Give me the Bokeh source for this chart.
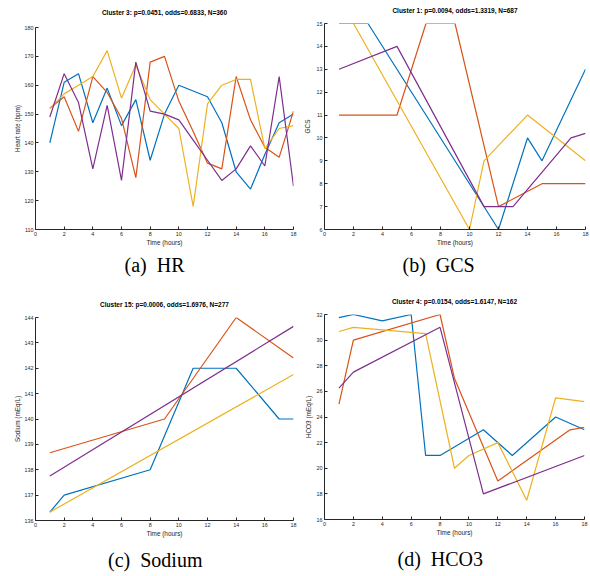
from bokeh.plotting import figure
from bokeh.models import Range1d, FixedTicker, Title
from bokeh.layouts import row, column
from bokeh.embed import file_html
from bokeh.resources import INLINE

# ---------------- data ----------------
hours = list(range(1, 19))
x_ticks = [0, 2, 4, 6, 8, 10, 12, 14, 16, 18]

# (a) HR - Cluster 3
hr_blue = [140, 161, 164, 147, 159, 146, 155, 134, 150, 160, 158, 156, 147, 130, 124, 136, 147, 150]
hr_orange = [152, 156, 144, 163, 157.5, 148.5, 128, 168, 170, 154.5, 144, 133, 131, 163, 148, 138.5, 135, 151]
hr_yellow = [152, 157, 160, 163, 172, 155.5, 167, 155, 150, 145, 118, 153.5, 160, 162, 162, 138, 145, 146]
hr_purple = [149, 164, 154, 131, 153, 127, 168, 151, 150, 148, 141, 134, 127, 131, 139, 132, 163, 125]
hr_yticks = [110, 120, 130, 140, 150, 160, 170, 180]

# (b) GCS - Cluster 1
gcs_blue_h = [1, 2, 3, 12, 14, 15, 18]
gcs_blue = [15, 15, 15, 6, 10, 9, 13]
gcs_orange_h = [1, 5, 7, 9, 12, 15, 18]
gcs_orange = [11, 11, 15, 15, 7, 8, 8]
gcs_yellow_h = [1, 2, 10, 11, 14, 18]
gcs_yellow = [15, 15, 6, 9, 11, 9]
gcs_purple_h = [1, 5, 11, 13, 17, 18]
gcs_purple = [13, 14, 7, 7, 10, 10.2]
gcs_yticks = [6, 7, 8, 9, 10, 11, 12, 13, 14, 15]

# (c) Sodium - Cluster 15
na_blue_h = [1, 2, 8, 11, 14, 17, 18]
na_blue = [136.33, 137, 138, 142, 142, 140, 140]
na_orange_h = [1, 9, 14, 18]
na_orange = [138.67, 140, 144, 142.4]
na_yellow_h = [1, 18]
na_yellow = [136.33, 141.75]
na_purple_h = [1, 18]
na_purple = [137.75, 143.65]
na_yticks = [136, 137, 138, 139, 140, 141, 142, 143, 144]

# (d) HCO3 - Cluster 4
hco3_blue_h = [1, 2, 4, 6, 7, 8, 11, 13, 16, 18]
hco3_blue = [31.75, 32, 31.5, 32, 21, 21, 23, 21, 24, 23]
hco3_orange_h = [1, 2, 8, 9, 12, 17, 18]
hco3_orange = [25, 30, 32, 27, 19, 23, 23.2]
hco3_yellow_h = [1, 2, 7, 9, 10, 12, 14, 16, 18]
hco3_yellow = [30.67, 31, 30.5, 20, 21, 22, 17.5, 25.5, 25.2]
hco3_purple_h = [1, 2, 8, 11, 18]
hco3_purple = [26.25, 27.5, 31, 18, 21]
hco3_yticks = [16, 18, 20, 22, 24, 26, 28, 30, 32]

COLORS = ["#0072BD", "#D95319", "#EDB120", "#7E2F8E"]
SANS = "Liberation Sans"
SERIF = "Liberation Serif"
AX = "#262626"


def panel(title, ylabel, yrange, yticks, series, caption, fw, fh,
          bl, bt, br, bb, title_standoff, cap_standoff, cap_offset, ylab_standoff):
    p = figure(frame_width=fw, frame_height=fh,
               min_border_left=bl, min_border_top=bt,
               min_border_right=br, min_border_bottom=bb,
               x_range=Range1d(0, 18), y_range=Range1d(*yrange),
               output_backend="svg", toolbar_location=None,
               title=title)
    p.title.text_font = SANS
    p.title.text_font_size = "6.5px"
    p.title.text_font_style = "bold"
    p.title.text_color = "#000000"
    p.title.align = "center"
    p.title.vertical_align = "top"
    p.title.standoff = title_standoff
    p.outline_line_color = None
    p.xgrid.visible = False
    p.ygrid.visible = False
    p.background_fill_color = "white"
    p.border_fill_color = "white"

    for (xs, ys), c in zip(series, COLORS):
        p.line(xs, ys, line_color=c, line_width=1.2)

    p.xaxis.ticker = FixedTicker(ticks=x_ticks)
    p.yaxis.ticker = FixedTicker(ticks=yticks)
    p.xaxis.axis_label = "Time (hours)"
    p.yaxis.axis_label = ylabel
    for ax in (p.xaxis, p.yaxis):
        ax.axis_line_color = AX
        ax.axis_line_width = 1
        ax.major_tick_line_color = AX
        ax.major_tick_in = 3
        ax.major_tick_out = 0
        ax.minor_tick_line_color = None
        ax.major_label_text_font = SANS
        ax.major_label_text_font_size = "5.4px"
        ax.major_label_text_color = AX
        ax.axis_label_text_font = SANS
        ax.axis_label_text_font_size = "6.4px"
        ax.axis_label_text_font_style = "normal"
        ax.axis_label_text_color = AX
        ax.major_label_standoff = 2
    p.xaxis.axis_label_standoff = 0
    p.yaxis.axis_label_standoff = ylab_standoff

    cap = Title(text=caption, align="left", vertical_align="bottom",
                text_font=SERIF, text_font_size="20px", text_font_style="normal",
                text_color="#000000", standoff=cap_standoff, offset=cap_offset)
    p.add_layout(cap, "below")
    return p


pa = panel("Cluster 3: p=0.0451, odds=0.6833, N=360", "Heart rate (bpm)", (110, 180), hr_yticks,
           [(hours, hr_blue), (hours, hr_orange), (hours, hr_yellow), (hours, hr_purple)],
           "(a)\u00a0 HR", 258, 202, 35, 27, 7, 56, 17.5, 7, 89, 1)
pb = panel("Cluster 1: p=0.0094, odds=1.3319, N=687", "GCS", (6, 15), gcs_yticks,
           [(gcs_blue_h, gcs_blue), (gcs_orange_h, gcs_orange),
            (gcs_yellow_h, gcs_yellow), (gcs_purple_h, gcs_purple)],
           "(b)\u00a0 GCS", 261, 206, 23, 23, 6, 56, 13.5, 7, 78, 3)
pc = panel("Cluster 15: p=0.0006, odds=1.6976, N=277", "Sodium (mEq/L)", (136, 144), na_yticks,
           [(na_blue_h, na_blue), (na_orange_h, na_orange),
            (na_yellow_h, na_yellow), (na_purple_h, na_purple)],
           "(c)\u00a0 Sodium", 258, 203, 35, 32, 7, 56, 15, 15, 72.5, 1)
pd_ = panel("Cluster 4: p=0.0154, odds=1.6147, N=162", "HCO3 (mEq/L)", (16, 32), hco3_yticks,
            [(hco3_blue_h, hco3_blue), (hco3_orange_h, hco3_orange),
             (hco3_yellow_h, hco3_yellow), (hco3_purple_h, hco3_purple)],
            "(d)\u00a0 HCO3", 260, 205, 24, 29, 6, 57, 13.5, 15, 73, 2)

layout = row(column(pa, pc), column(pb, pd_))

open("out.html", "w").write(file_html(layout, INLINE))
